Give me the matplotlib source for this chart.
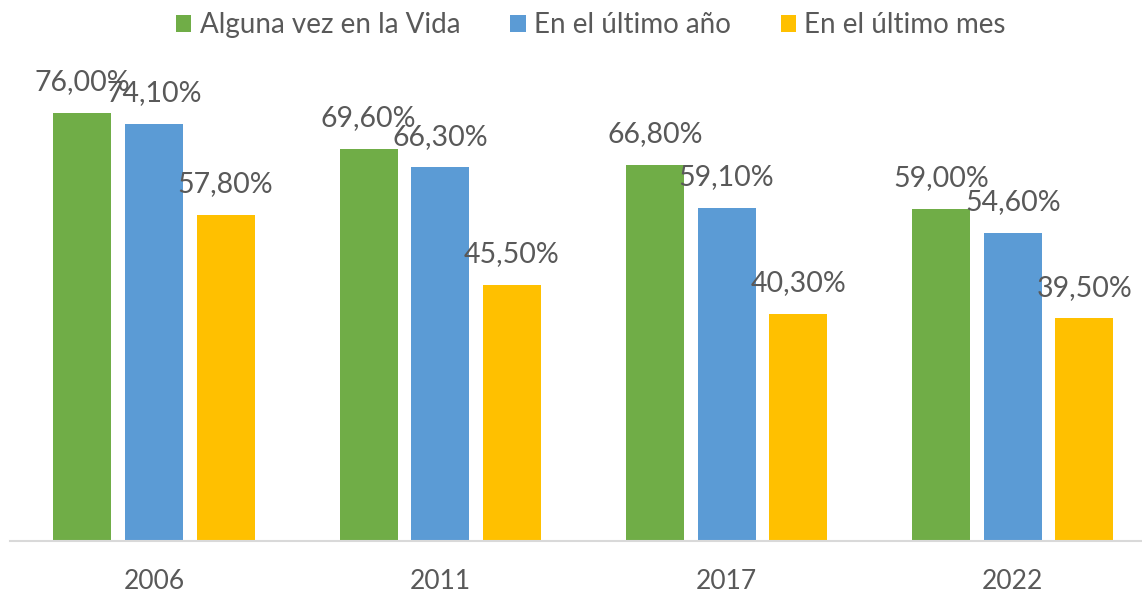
import numpy as np
import matplotlib
matplotlib.use('Agg')
import matplotlib.pyplot as plt
from matplotlib.patches import Patch

years = ['2006', '2011', '2017', '2022']
series_names = ['Alguna vez en la Vida', 'En el último año', 'En el último mes']
alguna_vez = [76.0, 69.6, 66.8, 59.0]
ultimo_anio = [74.1, 66.3, 59.1, 54.6]
ultimo_mes = [57.8, 45.5, 40.3, 39.5]
colors = ['#70AD47', '#5B9BD5', '#FFC000']
text_color = '#595959'

plt.rcParams['font.family'] = ['Lato', 'DejaVu Sans']


def fmt(v):
    return f'{v:.2f}%'.replace('.', ',')


def create_graphic():
    fig = plt.figure(figsize=(11.42, 5.93), dpi=100)
    ax = fig.add_axes([10 / 1142, 52 / 593, 1146 / 1142, 489 / 593])

    x = np.arange(len(years))
    width = 0.203
    step = 0.25
    data = [alguna_vez, ultimo_anio, ultimo_mes]
    for i, (vals, c) in enumerate(zip(data, colors)):
        pos = x + (i - 1) * step
        ax.bar(pos, vals, width=width, color=c, zorder=2)
        for px, v in zip(pos, vals):
            ax.annotate(fmt(v), (px, v), xytext=(0, 16.5), textcoords='offset points',
                        ha='center', va='baseline', fontsize=20.5, color=text_color)

    ax.set_xlim(-0.503, 3.5)
    ax.set_ylim(0, 86.8)
    ax.set_xticks(x)
    ax.set_xticklabels(years, fontsize=19, color=text_color)
    ax.tick_params(axis='x', length=0, pad=20)
    ax.set_yticks([])
    for s in ['top', 'right', 'left']:
        ax.spines[s].set_visible(False)
    ax.spines['bottom'].set_color('#D9D9D9')
    ax.spines['bottom'].set_linewidth(1.5)

    handles = [Patch(facecolor=c, label=n) for c, n in zip(colors, series_names)]
    fig.legend(handles=handles, loc='center', bbox_to_anchor=(591 / 1142, 1 - 25 / 593),
               ncol=3, frameon=False, fontsize=20, labelcolor=text_color,
               handlelength=0.55, handleheight=0.55, handletextpad=0.3,
               columnspacing=1.8)

    fig.savefig('out.png', dpi=100)


if __name__ == '__main__':
    create_graphic()
